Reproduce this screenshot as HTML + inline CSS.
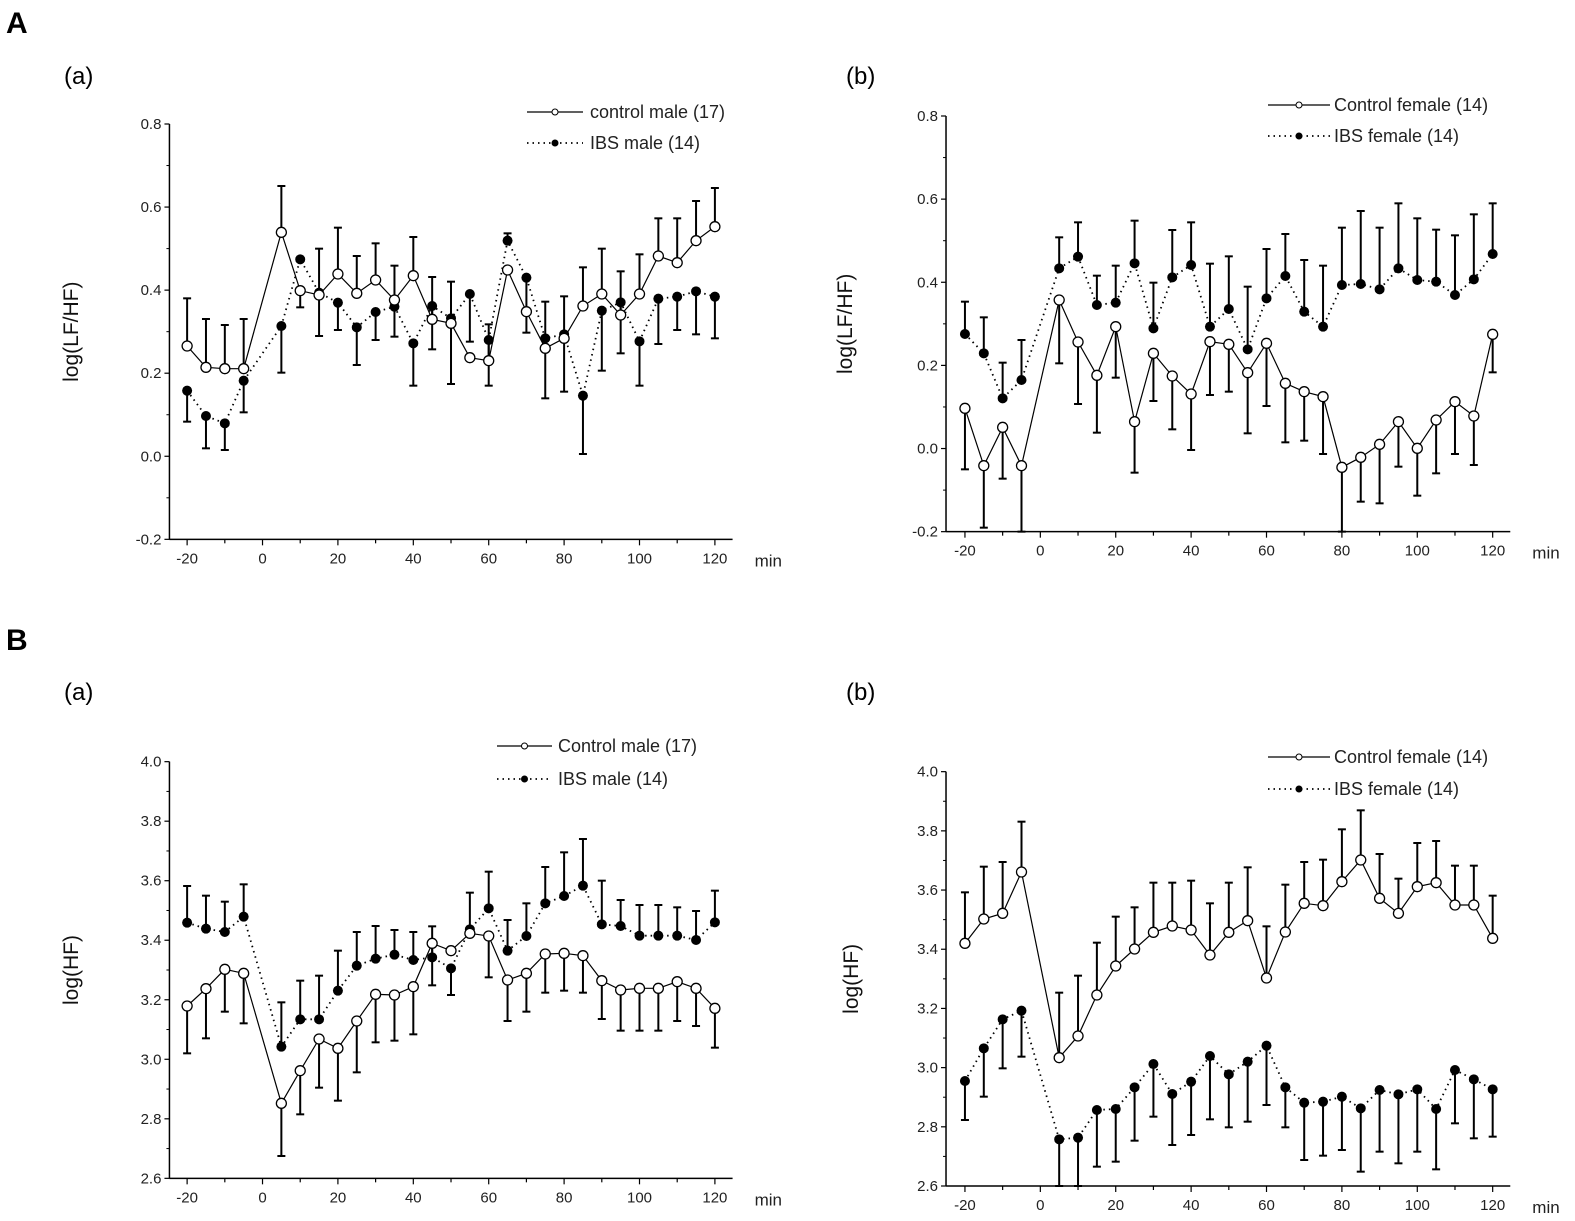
<!DOCTYPE html>
<html><head><meta charset="utf-8"><style>
html,body{margin:0;padding:0;background:#fff;}
svg{display:block;font-family:"Liberation Sans",sans-serif;}
</style></head><body>
<svg id="s" width="1575" height="1221" viewBox="0 0 1575 1221" xmlns="http://www.w3.org/2000/svg">
<text x="6" y="33" font-size="30" font-weight="bold">A</text>
<text x="6" y="650" font-size="30" font-weight="bold">B</text>
<text x="64" y="84" font-size="24">(a)</text>
<text x="846" y="84" font-size="24">(b)</text>
<text x="64" y="700" font-size="24">(a)</text>
<text x="846" y="700" font-size="24">(b)</text>
</svg>
<script>
const NS="http://www.w3.org/2000/svg",S=document.getElementById('s');
function el(t,a,txt){const e=document.createElementNS(NS,t);for(const k in a)e.setAttribute(k,a[k]);if(txt!==undefined)e.textContent=txt;S.appendChild(e);return e;}
const P=[
{ox:100,oy:100,sx:2.376,ax:165,x0:207,x1:1461,xr:1503,yt:72,yb:1318,lab:["0.8","0.6","0.4","0.2","0.0","-0.2"],ylabel:"log(LF/HF)",ylx:78,
leg:{x1:527,x2:583,y:112,t1:"control male (17)",t2:"IBS male (14)",tx:590,dy:31},
c:[[738,595],[802,657],[806,675],[806,657],null,[397,258],[572,622],[585,446],[522,383],[580,468],[540,430],[600,497],[527,411],[658,531],[670,545],[773,773],[782,673],[510,510],[635,635],[745,605],[715,589],[618,502],[582,446],[645,514],[582,463],[468,355],[488,355],[422,303],[380,264]],
i:[[872,965],[948,1045],[970,1050],[842,937],null,[678,818],[478,478],[578,708],[608,690],[682,795],[636,720],[620,710],[730,857],[618,748],[655,852],[582,725],[720,857],[422,400],[533,698],[715,895],[703,875],[887,1062],[632,812],[607,760],[724,857],[596,732],[590,690],[574,703],[590,715]]},
{ox:880,oy:80,sx:2.272,ax:150,x0:193,x1:1392,xr:1432,yt:108,yb:1355,lab:["0.8","0.6","0.4","0.2","0.0","-0.2"],ylabel:"log(LF/HF)",ylx:852,min:true,
leg:{x1:1268,x2:1330,y:105,t1:"Control female (14)",t2:"IBS female (14)",tx:1334,dy:31},
c:[[985,1168],[1157,1343],[1042,1196],[1157,1355],null,[660,850],[786,972],[886,1058],[740,893],[1025,1178],[820,963],[888,1048],[942,1110],[785,945],[793,935],[878,1060],[790,978],[910,1087],[935,1082],[950,1122],[1162,1355],[1132,1265],[1093,1270],[1025,1160],[1105,1247],[1020,1180],[965,1122],[1008,1155],[763,877]],
i:[[762,665],[820,712],[955,848],[900,780],null,[565,472],[530,427],[675,587],[668,557],[550,422],[745,608],[592,450],[555,427],[740,551],[687,529],[808,620],[655,507],[588,462],[695,540],[740,557],[615,443],[612,393],[628,443],[565,370],[600,415],[605,449],[645,466],[598,403],[522,370]]},
{ox:100,oy:720,sx:2.376,ax:165,x0:207,x1:1461,xr:1503,yt:125,yb:1375,lab:["4.0","3.8","3.6","3.4","3.2","3.0","2.8","2.6"],ylabel:"log(HF)",ylx:78,
leg:{x1:497,x2:552,y:746,t1:"Control male (17)",t2:"IBS male (14)",tx:558,dy:33},
c:[[858,1000],[806,955],[748,875],[760,910],null,[1150,1308],[1052,1183],[957,1103],[985,1142],[903,1057],[823,967],[825,962],[800,943],[670,796],[692,692],[640,640],[648,772],[780,903],[760,875],[702,818],[700,812],[707,818],[782,897],[810,932],[805,932],[805,932],[785,903],[805,918],[865,983]],
i:[[608,498],[626,527],[636,545],[590,493],null,[980,847],[898,782],[898,767],[812,692],[737,636],[716,618],[704,630],[720,636],[712,619],[745,825],[628,518],[565,455],[692,600],[648,550],[550,441],[528,397],[497,357],[613,482],[618,540],[647,555],[647,555],[647,562],[660,573],[607,512]]},
{ox:880,oy:730,sx:2.272,ax:150,x0:193,x1:1392,xr:1432,yt:125,yb:1368,lab:["4.0","3.8","3.6","3.4","3.2","3.0","2.8","2.6"],ylabel:"log(HF)",ylx:858,min:true,
leg:{x1:1268,x2:1330,y:757,t1:"Control female (14)",t2:"IBS female (14)",tx:1334,dy:32},
c:[[640,487],[567,410],[550,396],[426,275],null,[983,788],[918,737],[795,638],[708,560],[657,532],[607,458],[588,458],[600,452],[675,520],[607,458],[572,412],[744,589],[606,464],[520,396],[527,389],[455,298],[390,241],[505,372],[550,446],[470,339],[458,333],[525,407],[525,407],[625,497]],
i:[[1053,1170],[955,1100],[868,1015],[842,980],null,[1228,1368],[1223,1368],[1140,1310],[1137,1295],[1072,1232],[1002,1160],[1092,1245],[1055,1215],[978,1168],[1033,1192],[995,1175],[947,1125],[1072,1192],[1118,1290],[1115,1277],[1100,1260],[1135,1325],[1080,1265],[1093,1300],[1078,1265],[1137,1318],[1020,1180],[1048,1225],[1078,1220]]}
];
P.forEach(p=>{
 const X=z=>p.ox+z/p.sx, Y=z=>p.oy+z/3;
 const ax=X(p.ax), yt=Y(p.yt), yb=Y(p.yb), xr=X(p.xr);
 const n=p.lab.length-1, step=(yb-yt)/n;
 el('line',{x1:ax,y1:yt,x2:ax,y2:yb,stroke:'#000','stroke-width':1.5});
 el('line',{x1:ax,y1:yb,x2:xr,y2:yb,stroke:'#000','stroke-width':1.5});
 p.lab.forEach((l,k)=>{const y=yt+k*step;
  el('line',{x1:ax-5,y1:y,x2:ax,y2:y,stroke:'#000','stroke-width':1.2});
  if(k<n)el('line',{x1:ax-3,y1:y+step/2,x2:ax,y2:y+step/2,stroke:'#000','stroke-width':1});
  el('text',{x:ax-8,y:y+5,'font-size':15,'text-anchor':'end',fill:'#222'},l);});
 const xs=(p.x1-p.x0)/28;
 const XM=m=>X(p.x0+(m+20)/5*xs);
 for(let m=-20;m<=120;m+=10){const x=XM(m);el('line',{x1:x,y1:yb,x2:x,y2:yb+(m%20==0?6:4),stroke:'#000','stroke-width':1.2});
  if(m%20==0)el('text',{x:x,y:yb+24,'font-size':15,'text-anchor':'middle',fill:'#222'},String(m));}
 el('text',{x:xr+22,y:yb+27,'font-size':17,fill:'#222'},'min');
 const cy=(yt+yb)/2;
 el('text',{x:p.ylx,y:cy,'font-size':21,'text-anchor':'middle',transform:`rotate(-90 ${p.ylx} ${cy})`,fill:'#111'},p.ylabel);
 function series(arr,dash){
  const pts=[];arr.forEach((d,k)=>{if(!d)return;const m=-20+k*5;pts.push([XM(m),Y(d[0]),Y(d[1])]);});
  el('polyline',{points:pts.map(q=>q[0]+','+q[1]).join(' '),fill:'none',stroke:'#000','stroke-width':dash?1.8:1.2,'stroke-dasharray':dash?'1.5 4':'none'});
  pts.forEach(q=>{if(Math.abs(q[2]-q[1])>2){el('line',{x1:q[0],y1:q[1],x2:q[0],y2:q[2],stroke:'#000','stroke-width':2});el('line',{x1:q[0]-4,y1:q[2],x2:q[0]+4,y2:q[2],stroke:'#000','stroke-width':2});}});
  return pts;}
 const pi=series(p.i,true), pc=series(p.c,false);
 pi.forEach(q=>el('circle',{cx:q[0],cy:q[1],r:5,fill:'#000'}));
 pc.forEach(q=>el('circle',{cx:q[0],cy:q[1],r:5,fill:'#fff',stroke:'#000','stroke-width':1.3}));
 const L=p.leg,lm=(L.x1+L.x2)/2;
 el('line',{x1:L.x1,y1:L.y,x2:L.x2,y2:L.y,stroke:'#000','stroke-width':1.3});
 el('circle',{cx:lm,cy:L.y,r:3,fill:'#fff',stroke:'#000','stroke-width':1});
 el('text',{x:L.tx,y:L.y+6,'font-size':18,fill:'#222'},L.t1);
 el('line',{x1:L.x1,y1:L.y+L.dy,x2:L.x2,y2:L.y+L.dy,stroke:'#000','stroke-width':1.8,'stroke-dasharray':'1.5 4'});
 el('circle',{cx:lm,cy:L.y+L.dy,r:3.5,fill:'#000'});
 el('text',{x:L.tx,y:L.y+L.dy+6,'font-size':18,fill:'#222'},L.t2);
});
</script>
</body></html>
